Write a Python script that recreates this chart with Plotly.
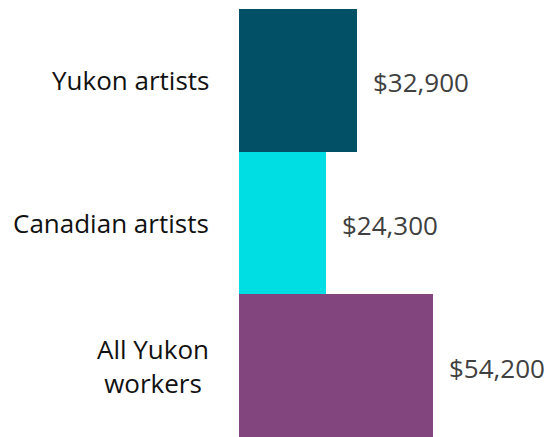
import plotly.graph_objects as go

categories = ["Yukon artists", "Canadian artists", "All Yukon<br>workers"]
values = [32900, 24300, 54200]
colors = ["#015066", "#00DDE3", "#82457D"]

FONT = "Open Sans"

fig = go.Figure(
    go.Bar(
        y=categories,
        x=values,
        orientation="h",
        marker=dict(color=colors, line=dict(width=0)),
        hoverinfo="skip",
    )
)

annotations = []
for cat, v in zip(categories, values):
    annotations.append(dict(
        x=0, y=cat, xref="x", yref="y", text=cat, showarrow=False,
        xanchor="right", yanchor="middle", align="center", xshift=-28,
        font=dict(family=FONT, size=26, color="#111111"),
    ))
    annotations.append(dict(
        x=v, y=cat, xref="x", yref="y", text=f"${v:,}", showarrow=False,
        xanchor="left", yanchor="middle", xshift=14, yshift=-2,
        font=dict(family=FONT, size=26, color="#404040"),
    ))

fig.update_layout(
    width=544, height=429,
    margin=dict(l=231, r=0, t=1, b=0),
    paper_bgcolor="white", plot_bgcolor="white",
    bargap=0,
    showlegend=False,
    xaxis=dict(range=[0, 87400], visible=False, fixedrange=True),
    yaxis=dict(categoryorder="array", categoryarray=categories[::-1],
               visible=False, fixedrange=True),
    annotations=annotations,
)

fig.write_html("out.html")
